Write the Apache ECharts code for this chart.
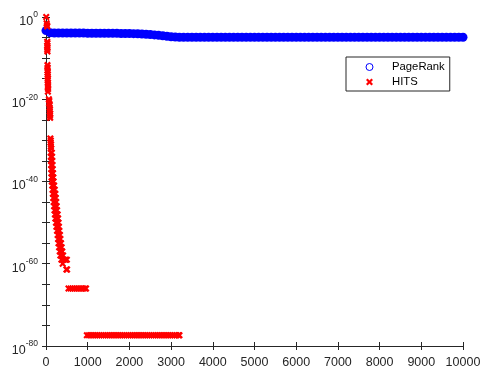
<!DOCTYPE html>
<html><head><meta charset="utf-8">
<script src="https://cdn.jsdelivr.net/npm/echarts@6/dist/echarts.min.js"></script>
<style>html,body{margin:0;padding:0;background:#fff}#c{width:480px;height:372px}</style>
</head><body><div id="c"></div>
<script>
// ---- data ----
const yLabelExponents = [-80, -60, -40, -20, 0];
const yTickExponents = [-80, -75, -70, -65, -60, -55, -50, -45, -40, -35, -30, -25, -20, -15, -10, -5, 0];
const xTickStep = 1000;

// PageRank: [node index, score]
const pagerank = [
  [0,5e-4],[100,1.5e-4],[200,1.3e-4],[300,1.25e-4],[400,1.2e-4],[500,1.2e-4],[600,1.2e-4],[700,1.2e-4],
  [800,1.2e-4],[900,1.2e-4],[1000,1.15e-4],[1100,1.15e-4],[1200,1.15e-4],[1300,1.1e-4],[1400,1.1e-4],
  [1500,1.1e-4],[1600,1.05e-4],[1700,1.05e-4],[1800,1.0e-4],[1900,1.0e-4],[2000,9.5e-5],[2100,9e-5],
  [2200,8.5e-5],[2300,7.5e-5],[2400,6.5e-5],[2500,5.5e-5],[2600,4.5e-5],[2700,3.5e-5],[2800,2.8e-5],
  [2900,2.1e-5],[3000,1.6e-5],[3100,1.35e-5],[3200,1.2e-5],[3300,1.15e-5],[3400,1.15e-5],[3500,1.15e-5],
  [3600,1.15e-5],[3700,1.15e-5],[3800,1.15e-5],[3900,1.15e-5],[4000,1.15e-5],[4100,1.15e-5],[4200,1.15e-5],
  [4300,1.15e-5],[4400,1.15e-5],[4500,1.15e-5],[4600,1.15e-5],[4700,1.15e-5],[4800,1.15e-5],[4900,1.15e-5],
  [5000,1.15e-5],[5100,1.15e-5],[5200,1.15e-5],[5300,1.15e-5],[5400,1.15e-5],[5500,1.15e-5],[5600,1.15e-5],
  [5700,1.15e-5],[5800,1.15e-5],[5900,1.15e-5],[6000,1.15e-5],[6100,1.15e-5],[6200,1.15e-5],[6300,1.15e-5],
  [6400,1.15e-5],[6500,1.15e-5],[6600,1.15e-5],[6700,1.15e-5],[6800,1.15e-5],[6900,1.15e-5],[7000,1.15e-5],
  [7100,1.15e-5],[7200,1.15e-5],[7300,1.15e-5],[7400,1.15e-5],[7500,1.15e-5],[7600,1.15e-5],[7700,1.15e-5],
  [7800,1.15e-5],[7900,1.15e-5],[8000,1.15e-5],[8100,1.15e-5],[8200,1.15e-5],[8300,1.15e-5],[8400,1.15e-5],
  [8500,1.15e-5],[8600,1.15e-5],[8700,1.15e-5],[8800,1.15e-5],[8900,1.15e-5],[9000,1.15e-5],[9100,1.15e-5],
  [9200,1.15e-5],[9300,1.15e-5],[9400,1.15e-5],[9500,1.15e-5],[9600,1.15e-5],[9700,1.15e-5],[9800,1.2e-5],
  [9900,1.2e-5],[10000,1.2e-5]
];

// HITS: steep head of the distribution
const hitsDescent = [
  [5,1],[15,3e-2],[25,1e-2],[30,5e-3],
  [30,1e-6],[35,4e-7],[30,1e-7],[35,3e-8],[30,1e-8],[35,4e-9],
  [35,2e-12],[40,5e-13],[35,1e-13],[40,3e-14],[45,1e-14],[40,3e-15],[45,1e-15],[40,4e-16],[45,1e-16],
  [50,3e-17],[45,1e-17],[50,3e-18],[45,7e-19],
  [70,1e-20],[80,4e-21],[75,1e-21],[90,4e-22],[85,1e-22],[95,3e-23],[90,1e-23],[100,3e-24],[95,1e-24],[100,3e-25],
  [105,3e-30],[115,1e-30],[110,3e-31],[120,1e-31],[115,3e-32],[125,1e-32],
  [115,1e-33],[140,1e-33],[118,1e-34],[145,1e-34],[122,1e-35],[150,1e-35],[125,1e-36],[155,1e-36],
  [128,1e-37],[160,1e-37],[132,1e-38],[168,1e-38],[135,1e-39],[175,1e-39],[140,1e-40],[180,1e-40],
  [150,1e-41],[195,1e-41],[160,1e-42],[210,1e-42],[165,1e-43],[225,1e-43],[175,1e-44],[235,1e-44],
  [185,1e-45],[245,1e-45],[195,1e-46],[255,1e-46],[205,1e-47],[265,1e-47],[215,1e-48],[280,1e-48],
  [225,1e-49],[290,1e-49],[240,1e-50],[300,1e-50],[250,1e-51],[310,1e-51],[265,1e-52],[320,1e-52],
  [280,1e-53],[335,1e-53],[290,1e-54],[345,1e-54],[300,1e-55],[360,1e-55],[315,1e-56],[375,1e-56],
  [330,1e-57],[390,1e-57],[345,1e-58],[410,1e-58],[370,1e-59],[430,1e-59],[470,1e-59],[500,1e-59],
  [400,1e-60],[490,4e-62],[505,4e-62]
];
// HITS: first plateau
const hitsPlateau1 = [
  [540,1e-66],[590,1e-66],[640,1e-66],[690,1e-66],[740,1e-66],[790,1e-66],[840,1e-66],[890,1e-66],[940,1e-66],[960,1e-66]
];
// HITS: second plateau
const hitsPlateau2 = [
  [980,4e-78],[1030,4e-78],[1080,4e-78],[1130,4e-78],[1180,4e-78],[1230,4e-78],[1280,4e-78],[1330,4e-78],
  [1380,4e-78],[1430,4e-78],[1480,4e-78],[1530,4e-78],[1580,4e-78],[1630,4e-78],[1680,4e-78],[1730,4e-78],
  [1780,4e-78],[1830,4e-78],[1880,4e-78],[1930,4e-78],[1980,4e-78],[2030,4e-78],[2080,4e-78],[2130,4e-78],
  [2180,4e-78],[2230,4e-78],[2280,4e-78],[2330,4e-78],[2380,4e-78],[2430,4e-78],[2480,4e-78],[2530,4e-78],
  [2580,4e-78],[2630,4e-78],[2680,4e-78],[2730,4e-78],[2780,4e-78],[2830,4e-78],[2880,4e-78],[2930,4e-78],
  [2980,4e-78],[3030,4e-78],[3080,4e-78],[3130,4e-78],[3180,4e-78],[3200,4e-78]
];

// ---- styling ----
const AX = '#262626';
const FONT = '"Liberation Sans", Arial, Helvetica, sans-serif';
const XMARK = 'path://M0,2.2L2.2,0L5,2.8L7.8,0L10,2.2L7.2,5L10,7.8L7.8,10L5,7.2L2.2,10L0,7.8L2.8,5Z';

const yLabelValues = yLabelExponents.map(e => Math.pow(10, e));
const yTickValues = yTickExponents.map(e => Math.pow(10, e));

function yLabel(v) {
  if (!(v > 0)) return '';
  const e = Math.round(Math.log10(v));
  return '{b|10}{s|' + e + '}';
}

const xBase = {
  type: 'value', min: 0, max: 10000, interval: xTickStep,
  axisLine: { show: true, lineStyle: { color: AX, width: 1 } },
  axisTick: { show: true, inside: true, length: 4, lineStyle: { color: AX } },
  splitLine: { show: false }
};
const yBase = {
  type: 'log', logBase: 10, min: 1e-80, max: 1, interval: 5, splitNumber: 16,
  axisLine: { show: true, lineStyle: { color: AX, width: 1 } },
  axisTick: { show: true, inside: true, length: 4, customValues: yTickValues, lineStyle: { color: AX } },
  splitLine: { show: false }, minorTick: { show: false }
};

const chart = echarts.init(document.getElementById('c'), null, { renderer: 'canvas' });
chart.setOption({
  animation: false,
  backgroundColor: '#fff',
  grid: { left: 46, right: 17, top: 17, bottom: 26, containLabel: false, outerBoundsMode: 'none' },
  xAxis: [
    Object.assign({}, xBase, { position: 'bottom',
      axisLabel: { show: true, color: AX, fontSize: 12.5, fontFamily: FONT, margin: 10, hideOverlap: false,
        showMaxLabel: true, showMinLabel: true, formatter: v => String(v) } }),
    Object.assign({}, xBase, { position: 'top', axisLabel: { show: false } })
  ],
  yAxis: [
    Object.assign({}, yBase, { position: 'left',
      axisLabel: { show: true, customValues: yLabelValues, margin: 8, color: AX, fontFamily: FONT, formatter: yLabel,
        hideOverlap: false, showMinLabel: true, showMaxLabel: true,
        rich: {
          b: { fontSize: 12.5, padding: [9, 0, 0, 0], color: AX, fontFamily: FONT },
          s: { fontSize: 8.5, padding: [0, 0, 4, 0], color: AX, fontFamily: FONT }
        } } }),
    Object.assign({}, yBase, { position: 'right', axisLabel: { show: false } })
  ],
  legend: {
    orient: 'vertical', left: 346, top: 57,
    padding: [4.5, 5, 3.5, 19.5], itemGap: 4, itemWidth: 7, itemHeight: 7,
    borderColor: AX, borderWidth: 1, borderRadius: 0, backgroundColor: '#fff',
    textStyle: { fontSize: 11.3, color: '#000', fontFamily: FONT, padding: [0, 0, 0, 14] },
    data: [
      { name: 'PageRank', icon: 'circle', itemStyle: { color: '#fff', borderColor: '#0000ff', borderWidth: 1 } },
      { name: 'HITS', icon: XMARK, itemStyle: { color: '#ff0000', borderWidth: 0 } }
    ]
  },
  series: [
    { name: 'PageRank', type: 'scatter', xAxisIndex: 0, yAxisIndex: 0, data: pagerank,
      symbol: 'circle', symbolSize: 9, itemStyle: { color: '#0000ff', opacity: 1 } },
    { name: 'HITS', type: 'scatter', xAxisIndex: 0, yAxisIndex: 0,
      data: hitsDescent.concat(hitsPlateau1, hitsPlateau2),
      symbol: XMARK, symbolSize: 7, itemStyle: { color: '#ff0000', opacity: 1 } }
  ]
});
</script></body></html>
